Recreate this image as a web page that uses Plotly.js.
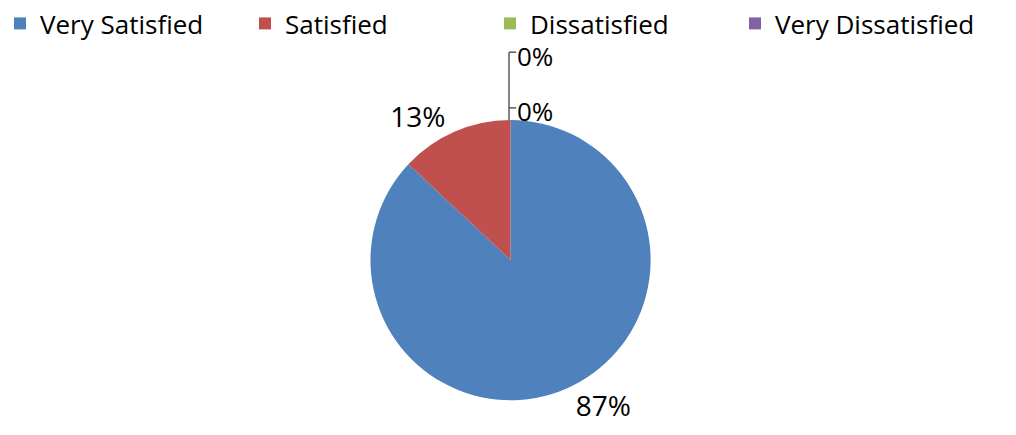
<!DOCTYPE html>
<html>
<head>
<meta charset="utf-8">
<script src="https://cdn.plot.ly/plotly-3.0.1.min.js"></script>
<style>
  body { margin: 0; background: #fff; }
  #chart { width: 1016px; height: 435px; }
</style>
</head>
<body>
<div id="chart"></div>
<script>
var categories = ['Very Satisfied', 'Satisfied', 'Dissatisfied', 'Very Dissatisfied'];
var shares = [87, 13, 0, 0];
var colours = ['#4F81BD', '#C0504D', '#9BBB59', '#8064A2'];

var total = shares.reduce(function (a, b) { return a + b; }, 0);
var pctText = shares.map(function (v) { return Math.round(v / total * 100) + '%'; });
// zero slices get their labels as annotations (plotly drops them)
var sliceText = shares.map(function (v, i) { return v > 0 ? pctText[i] : ''; });

var font = 'Open Sans, Liberation Sans, Arial, sans-serif';

var data = [{
  type: 'pie',
  labels: categories,
  values: shares,
  text: sliceText,
  textinfo: 'text',
  textposition: 'outside',
  sort: false,
  direction: 'clockwise',
  rotation: 0,
  marker: { colors: colours, line: { width: 0 } },
  textfont: { family: font, size: 28, color: '#000' },
  domain: { x: [0.364, 0.641], y: [0.08, 0.724] },
  hoverinfo: 'label+percent'
}];

// leader lines + labels for the two 0% slices
var zeroIdx = [];
shares.forEach(function (v, i) { if (v === 0) zeroIdx.push(i); });
var zeroY = [0.872, 0.745];
var annotations = zeroIdx.map(function (idx, k) {
  return {
    xref: 'paper', yref: 'paper',
    x: 0.507, y: zeroY[k], xanchor: 'left', yanchor: 'middle',
    text: pctText[idx], showarrow: false,
    font: { family: font, size: 26, color: '#000' }
  };
});

var tickTop = 0.88, tickLow = 0.752;
var shapes = [
  { type: 'line', xref: 'paper', yref: 'paper', x0: 0.501, x1: 0.501, y0: 0.724, y1: tickTop,
    line: { color: '#595959', width: 1.5 } },
  { type: 'line', xref: 'paper', yref: 'paper', x0: 0.501, x1: 0.508, y0: tickTop, y1: tickTop,
    line: { color: '#595959', width: 1.5 } },
  { type: 'line', xref: 'paper', yref: 'paper', x0: 0.501, x1: 0.508, y0: tickLow, y1: tickLow,
    line: { color: '#595959', width: 1.5 } }
];

var layout = {
  width: 1016, height: 435,
  margin: { l: 0, r: 0, t: 0, b: 0 },
  paper_bgcolor: '#fff',
  font: { family: font, color: '#000' },
  showlegend: true,
  legend: {
    orientation: 'h', x: 0.0, y: 1.0, xanchor: 'left', yanchor: 'top',
    font: { family: font, size: 26, color: '#000' },
    entrywidth: 200, entrywidthmode: 'pixels',
    traceorder: 'normal'
  },
  annotations: annotations,
  shapes: shapes
};

Plotly.newPlot('chart', data, layout, { displayModeBar: false, staticPlot: true });
</script>
</body>
</html>
